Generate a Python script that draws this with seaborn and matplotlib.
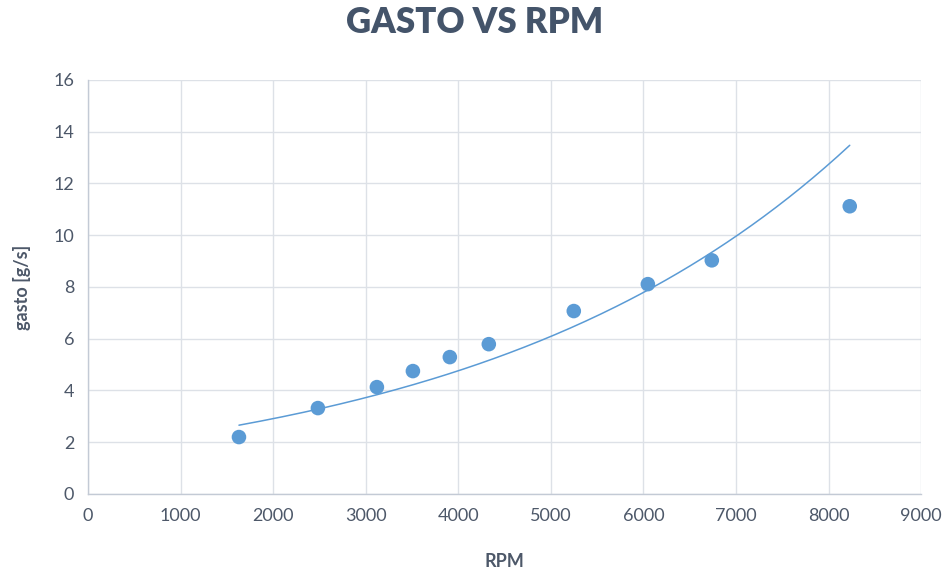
import numpy as np
import pandas as pd
import matplotlib
matplotlib.use("Agg")
import matplotlib.pyplot as plt
import seaborn as sns

# Measured fuel consumption against engine speed
rpm = [1631, 2484, 3121, 3510, 3909, 4330, 5248, 6048, 6739, 8229]
gasto = [2.20, 3.32, 4.13, 4.75, 5.29, 5.79, 7.07, 8.11, 9.03, 11.12]

# Exponential trendline y = a * exp(b * x)
trend_a = 1.78
trend_b = 0.000246

x_ticks = [0, 1000, 2000, 3000, 4000, 5000, 6000, 7000, 8000, 9000]
y_ticks = [0, 2, 4, 6, 8, 10, 12, 14, 16]

df = pd.DataFrame({"RPM": rpm, "gasto": gasto})
trend_x = np.linspace(min(rpm), max(rpm), 200)
trend_df = pd.DataFrame({"RPM": trend_x, "gasto": trend_a * np.exp(trend_b * trend_x)})

sns.set_theme(style="white")
plt.rcParams["font.family"] = ["Lato", "DejaVu Sans"]

text_col = "#4d5869"
title_col = "#44546a"
blue = "#5b9bd5"
grid_col = "#dde1e7"

fig = plt.figure(figsize=(9.5, 5.73), dpi=100)
ax = fig.add_axes([0.0926, 0.1379, 0.877, 0.7225])

sns.lineplot(data=trend_df, x="RPM", y="gasto", ax=ax, color=blue, linewidth=1.1, zorder=2)
sns.scatterplot(data=df, x="RPM", y="gasto", ax=ax, color=blue, s=110, edgecolor="none", zorder=3)

ax.set_xlim(0, 9000)
ax.set_ylim(0, 16)
ax.set_xticks(x_ticks)
ax.set_yticks(y_ticks)
ax.grid(True, color=grid_col, linewidth=1.0)
ax.set_axisbelow(True)
for side in ["top", "right"]:
    ax.spines[side].set_visible(False)
for side in ["left", "bottom"]:
    ax.spines[side].set_color("#c3cad5")
    ax.spines[side].set_linewidth(1.0)
ax.tick_params(axis="both", length=0, labelsize=13, colors=text_col, pad=10)

ax.set_xlabel("RPM", fontsize=13, fontweight="bold", color=text_col, labelpad=21)
ax.set_ylabel("gasto [g/s]", fontsize=13, fontweight="bold", color=text_col, labelpad=16)

fig.suptitle("GASTO VS RPM", x=0.5, y=0.99, fontsize=25, fontweight="heavy", color=title_col)

fig.savefig("out.png", dpi=100)
